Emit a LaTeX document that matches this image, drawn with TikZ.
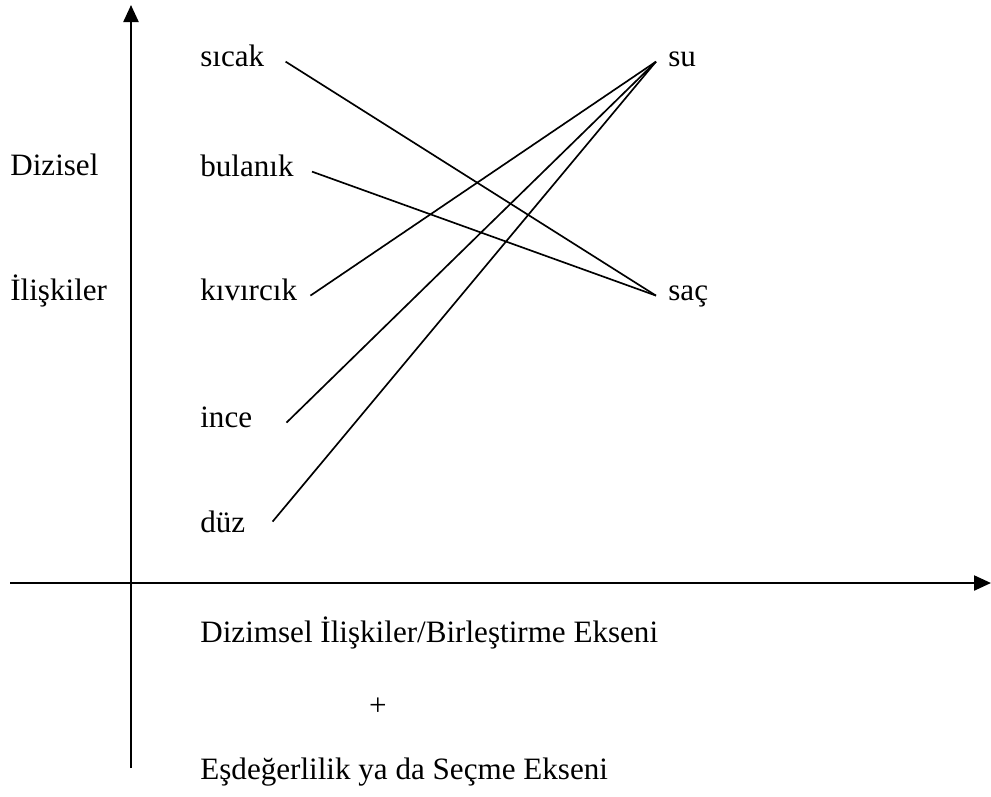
\documentclass[tikz,border=0pt]{standalone}
\usepackage{fontspec}
\setmainfont{Liberation Serif}
\usetikzlibrary{arrows.meta,positioning}
\newcommand{\wordfont}{\fontsize{17.7}{21}\selectfont}
\tikzset{
  word/.style={font=\wordfont, inner sep=0pt, text height=0.7em, text depth=0.2em, anchor=base west},
  axis/.style={line width=1.3pt, -{Triangle[length=0.34cm,width=0.3cm]}},
  link/.style={line width=0.95pt}
}

\begin{document}
\begin{tikzpicture}[x=0.02cm,y=-0.02cm]
  \useasboundingbox (0,0) rectangle (991,796);

  % axes
  \coordinate (yfoot) at (131,768);
  \coordinate (ytip) at (131,5);
  \coordinate (xfoot) at (10,583);
  \coordinate (xtip) at (991,583);
  \draw[axis] (yfoot) -- (ytip);
  \draw[axis] (xfoot) -- (xtip);

  % axis labels
  \node[word] (dizisel) at (10,175) {Dizisel};
  \node[word] (iliskiler) at (10,300) {İlişkiler};
  \node[word] (dizimsel) at (200,642) {Dizimsel İlişkiler/Birleştirme Ekseni};
  \node[word, anchor=base] (plus) at (378,715) {+};
  \node[word] (esdeger) at (200,779) {Eşdeğerlilik ya da Seçme Ekseni};

  % words
  \node[word] (sicak) at (200,66) {sıcak};
  \node[word] (bulanik) at (200,176) {bulanık};
  \node[word] (kivircik) at (200,300) {kıvırcık};
  \node[word] (ince) at (200,427) {ince};
  \node[word] (duz) at (200,532) {düz};
  \node[word] (su) at (668,66) {su};
  \node[word] (sac) at (668,300) {saç};

  % links
  \draw[link] ([xshift=0.42cm]sicak.east) -- ([xshift=-0.24cm]sac.west);
  \draw[link] ([xshift=0.36cm]bulanik.east) -- ([xshift=-0.24cm]sac.west);
  \draw[link] ([xshift=0.26cm]kivircik.east) -- ([xshift=-0.24cm]su.west);
  \draw[link] ([xshift=0.68cm]ince.east) -- ([xshift=-0.24cm]su.west);
  \draw[link] ([xshift=0.54cm,yshift=0.12cm]duz.east) -- ([xshift=-0.24cm]su.west);
\end{tikzpicture}
\end{document}
